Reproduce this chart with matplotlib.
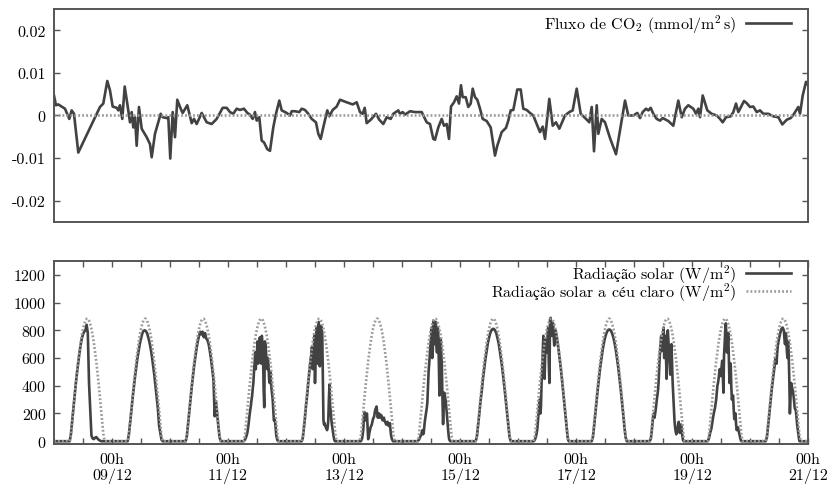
import matplotlib
matplotlib.use("Agg")
import matplotlib.pyplot as plt
import numpy as np

plt.rcParams['font.family'] = ['cmr10', 'Liberation Serif']
plt.rcParams['mathtext.fontset'] = 'cm'
plt.rcParams['axes.unicode_minus'] = False
plt.rcParams['font.size'] = 11.5

# hours since 08/12 00h
co2_hours = [0, 0.83, 1.78, 3.19, 4.55, 6.33, 7.32, 8.28, 10.06, 19.03, 20.4, 22.06, 23.17,
             24.29, 25.94, 26.61, 27.31, 28.26, 29.26, 30.33, 31.45, 32.15, 32.81, 33.52, 34.22,
             35.17, 36.29, 38.36, 39.72, 40.43, 41.79, 44.15, 44.98, 46.63, 47.3, 48.12, 49.12,
             50.07, 51.02, 52.43, 53.26, 55.16, 56.98, 57.93, 59.05, 61.12, 63.19, 65.26, 67.32,
             69.81, 71.46, 72.83, 74.19, 75.6, 76.97, 78.62, 79.99, 81.1, 82.22, 83.17, 83.88,
             84.95, 85.94, 86.9, 88.26, 89.38, 90.74, 91.86, 93.23, 94.22, 96.29, 97.66, 98.36,
             99.72, 101.5, 102.5, 103.86, 105.23, 106.63, 108.41, 109.37, 110.36, 111.43, 113.09,
             113.92, 115.32, 116.98, 118.34, 121.12, 123.6, 125.26, 126.62, 127.74, 128.57,
             129.39, 131.05, 133.24, 134.61, 136.26, 137.67, 139.33, 140.4, 142.47, 143.17,
             144.29, 145.24, 147.31, 149.38, 152.15, 154.22, 155.59, 156.95, 157.66, 159.02,
             160.43, 161.38, 162.5, 163.45, 164.28, 165.52, 166.63, 167.59, 168.41, 169.12,
             170.36, 171.43, 172.43, 173.26, 174.21, 175.16, 176.28, 177.39, 179.05, 180.7,
             182.48, 183.43, 185.25, 187.03, 187.99, 188.98, 190.06, 191.71, 193.12, 194.19,
             195.6, 196.97, 198.33, 199.45, 201.1, 202.22, 203.17, 204.95, 206.36, 207.72,
             209.1, 211.45, 213.23, 214.63, 216.29, 217.94, 220.14, 221.5, 222.5, 223.45,
             224.57, 225.23, 226.63, 228.0, 230.07, 232.55, 236.28, 237.64, 239.71, 241.37,
             242.48, 243.6, 244.97, 245.92, 246.91, 247.99, 249.39, 250.76, 251.88, 254.19,
             256.26, 258.33, 259.74, 261.1, 262.47, 264.54, 265.66, 266.61, 267.31, 268.43,
             270.34, 272.14, 274.22, 275.59, 276.7, 278.07, 280.02, 281.1, 282.21, 283.17,
             285.52, 286.63, 288.0, 289.37, 290.77, 292.14, 293.5, 295.57, 297.64, 299.71,
             301.37, 303.19, 304.84, 306.21, 307.99, 308.69, 309.81, 311.17, 312.0]
co2_flux = [0.0047, 0.0024, 0.0026, 0.0021, 0.0016, -0.0008, 0.0012, 0.0004, -0.0087, 0.002, 0.0028,
            0.0081, 0.0059, 0.0021, 0.0018, 0.0012, 0.0024, -0.0008, 0.0068, 0.0028, -0.0016,
            0.0008, -0.0028, -0.0004, -0.0071, 0.002, -0.0031, -0.0051, -0.0067, -0.0098,
            -0.0043, 0.0004, -0.0004, -0.0006, -0.0004, -0.0101, 0.0008, -0.0051, 0.0037, 0.0016,
            0.0006, 0.0024, -0.0018, -0.0008, -0.002, 0.0006, -0.0016, -0.002, -0.0008, 0.0018,
            0.0018, 0.0008, 0.0004, 0.0016, 0.0013, 0.0016, 0.0006, 0.0002, -0.0008, 0.0008,
            -0.0012, -0.0004, -0.0059, -0.0063, -0.0079, -0.0083, -0.0028, 0.0004, 0.0035,
            0.0012, 0.0006, 0.0, 0.001, 0.001, 0.0008, 0.0016, 0.0013, 0.0004, -0.0008, -0.0016,
            -0.0043, -0.0055, -0.0028, 0.0012, -0.0002, 0.0013, 0.0021, 0.0037, 0.0031, 0.0026,
            0.0031, 0.0008, 0.0004, 0.0018, -0.0018, -0.001, 0.0004, -0.001, -0.002, -0.0004,
            -0.0008, 0.0004, 0.0012, 0.0004, 0.0008, 0.0002, 0.001, 0.0008, 0.0008, -0.0016,
            -0.002, -0.0055, -0.0057, -0.0028, -0.0008, -0.0024, -0.002, -0.0055, 0.0021, 0.0031,
            0.0045, 0.0028, 0.0071, 0.0043, 0.0043, 0.002, 0.0028, 0.0063, 0.0043, 0.0037, 0.0016,
            -0.0008, -0.0013, -0.0028, -0.0094, -0.0071, -0.0039, -0.0029, -0.0012, 0.0012,
            0.0013, 0.0061, 0.0061, 0.0016, 0.0013, 0.0006, 0.0, -0.0016, -0.0039, -0.0026,
            -0.0055, 0.0039, -0.0024, -0.0016, -0.0031, 0.0, 0.0008, 0.0012, 0.0063, 0.0004,
            -0.0008, -0.0016, 0.002, -0.0084, 0.0024, -0.0043, -0.0008, -0.0016, -0.0053,
            -0.0091, 0.0035, 0.0, 0.0, 0.0006, -0.0006, 0.0008, 0.0016, 0.0012, 0.0018, 0.0004,
            -0.0008, -0.0012, -0.0006, -0.0013, -0.0024, 0.0035, -0.0004, 0.0016, 0.0024, 0.0016,
            0.0004, 0.0016, -0.0004, 0.0047, 0.0012, 0.0004, 0.0, -0.0008, -0.0016, -0.0004,
            -0.0002, 0.0008, 0.0028, 0.0008, 0.0034, 0.0029, 0.002, 0.0021, 0.0008, 0.0012,
            0.0004, 0.0004, -0.0002, -0.0004, -0.0021, -0.001, -0.0006, 0.0004, 0.002, 0.0004,
            0.0047, 0.0079, 0.0071]

# half-hourly daytime values, 06:30 to 21:00
day_hours = np.arange(6.5, 21.01, 0.5)
clear_sky = [0, 40, 130, 225, 320, 410, 495, 575, 645, 710, 765, 810, 845, 870, 883,
             883, 870, 845, 810, 765, 710, 645, 575, 495, 410, 320, 225, 130, 40, 0]
solar = [
    [0, 50, 140, 230, 320, 410, 490, 560, 630, 690, 740, 770, 790, 800, 840, 780, 420, 230, 40, 20, 15, 25, 30, 20, 10, 5, 0, 0, 0, 0],
    [0, 50, 130, 215, 305, 385, 460, 530, 595, 650, 700, 740, 775, 795, 800, 795, 780, 750, 715, 670, 615, 550, 480, 400, 320, 235, 110, 60, 10, 0],
    [0, 40, 125, 215, 305, 390, 470, 545, 610, 670, 720, 760, 790, 770, 790, 750, 780, 740, 730, 700, 650, 590, 520, 440, 180, 290, 200, 110, 30, 0],
    [0, 10, 30, 60, 120, 200, 260, 330, 420, 560, 520, 650, 560, 740, 690, 760, 620, 245, 700, 560, 600, 450, 500, 380, 300, 150, 140, 40, 5, 0],
    [0, 30, 110, 200, 290, 380, 470, 560, 620, 520, 650, 420, 780, 560, 860, 540, 830, 780, 150, 130, 100, 80, 150, 410, 220, 120, 60, 10, 0, 0],
    [0, 0, 20, 90, 210, 150, 200, 15, 60, 100, 120, 160, 180, 230, 250, 170, 200, 180, 185, 150, 170, 140, 120, 140, 110, 130, 40, 10, 0, 0],
    [0, 10, 30, 50, 80, 60, 150, 210, 280, 500, 620, 740, 600, 870, 700, 860, 640, 800, 330, 740, 540, 123, 350, 300, 210, 100, 15, 0, 0, 0],
    [0, 35, 115, 200, 290, 360, 450, 520, 590, 650, 705, 745, 780, 800, 810, 810, 800, 780, 745, 705, 650, 590, 525, 450, 370, 285, 200, 110, 30, 0],
    [0, 10, 40, 90, 210, 300, 250, 500, 760, 450, 740, 640, 820, 420, 890, 760, 850, 690, 800, 760, 700, 630, 560, 480, 390, 300, 210, 120, 35, 0],
    [0, 30, 110, 200, 290, 375, 455, 530, 595, 655, 705, 745, 775, 795, 805, 805, 795, 775, 745, 705, 655, 595, 530, 455, 375, 290, 200, 110, 30, 0],
    [0, 20, 100, 190, 170, 230, 310, 380, 560, 700, 650, 770, 600, 760, 450, 800, 650, 480, 700, 420, 250, 100, 50, 90, 140, 60, 120, 40, 0, 0],
    [0, 20, 60, 90, 150, 200, 240, 300, 400, 450, 520, 470, 580, 350, 700, 850, 640, 780, 420, 560, 300, 330, 160, 200, 80, 100, 60, 20, 0, 0],
    [0, 30, 110, 200, 290, 375, 450, 520, 590, 560, 690, 740, 780, 810, 820, 800, 700, 760, 600, 640, 200, 420, 380, 330, 240, 220, 120, 50, 0, 0],
]
# extra quarter-past readings (06:45 to 20:45) on the cloudy days
solar_mid = [
    None,
    None,
    None,
    [5, 20, 45, 90, 160, 230, 300, 380, 500, 640, 600, 720, 620, 750, 560, 700, 380, 720, 640, 520, 560, 420, 440, 340, 220, 160, 90, 20, 0],
    [10, 70, 150, 250, 330, 430, 520, 600, 680, 560, 760, 620, 820, 700, 830, 620, 810, 450, 120, 110, 90, 100, 300, 260, 160, 90, 30, 0, 0],
    [0, 10, 50, 180, 170, 180, 100, 30, 80, 110, 140, 170, 210, 240, 200, 190, 170, 190, 160, 160, 150, 130, 130, 120, 120, 80, 20, 0, 0],
    [5, 20, 40, 70, 50, 110, 180, 240, 400, 560, 700, 820, 650, 860, 760, 700, 820, 560, 600, 650, 300, 250, 330, 260, 150, 50, 5, 0, 0],
    None,
    [5, 25, 60, 150, 260, 200, 420, 650, 600, 620, 700, 780, 560, 880, 820, 800, 760, 780, 780, 730, 665, 595, 520, 435, 345, 255, 165, 75, 10],
    None,
    [10, 60, 150, 200, 200, 270, 340, 450, 640, 760, 720, 820, 700, 600, 780, 720, 560, 620, 560, 330, 150, 70, 60, 120, 100, 90, 80, 10, 0],
    [10, 40, 75, 120, 175, 220, 270, 350, 420, 490, 500, 540, 480, 620, 800, 760, 700, 600, 500, 400, 320, 230, 180, 120, 90, 80, 40, 5, 0],
    [15, 70, 155, 245, 330, 410, 485, 555, 600, 640, 715, 760, 795, 815, 810, 740, 780, 650, 720, 450, 320, 400, 360, 290, 230, 170, 85, 20, 0],
]

tick_hours = [24, 72, 120, 168, 216, 264, 312]
tick_labels = ['00h\n09/12', '00h\n11/12', '00h\n13/12', '00h\n15/12',
               '00h\n17/12', '00h\n19/12', '00h\n21/12']
co2_ticks = [-0.02, -0.01, 0, 0.01, 0.02]
co2_tick_labels = ['-0.02', '-0.01', '0', '0.01', '0.02']
rad_ticks = [0, 200, 400, 600, 800, 1000, 1200]

co2_label = r'Fluxo de CO$_2$ (mmol/m$^2\,$s)'
obs_label = r'Radia$\mathrm{çã}$o solar (W/m$^2$)'
clear_label = r'Radia$\mathrm{çã}$o solar a c$\mathrm{é}$u claro (W/m$^2$)'

# full series, zero at night
obs_t, rad_obs, clear_t, rad_clear = [], [], [], []
for d, day in enumerate(solar):
    t0 = 24 * d
    clear_t.extend([t0] + list(t0 + day_hours) + [t0 + 24])
    rad_clear.extend([0] + clear_sky + [0])
    if solar_mid[d] is None:
        th, vals = list(day_hours), list(day)
    else:
        th = np.empty(2 * len(day_hours) - 1)
        th[0::2] = day_hours
        th[1::2] = day_hours[:-1] + 0.25
        vals = np.empty(len(th))
        vals[0::2] = day
        vals[1::2] = solar_mid[d]
        th, vals = list(th), list(vals)
    obs_t.extend([t0] + [t0 + h for h in th] + [t0 + 24])
    rad_obs.extend([0] + vals + [0])

dark = '#424242'
grey = '#9a9a9a'
frame = '#555555'
dots = (0, (0.7, 0.8))

fig = plt.figure(figsize=(8.33, 4.85), dpi=100)
ax1 = fig.add_axes([0.0648, 0.5402, 0.9052, 0.4392])
ax2 = fig.add_axes([0.0648, 0.0825, 0.9052, 0.3773])

ax1.plot(co2_hours, co2_flux, color=dark, lw=1.9, label=co2_label)
ax1.axhline(0, color=grey, lw=1.9, ls=dots)
ax1.set_xlim(0, 312)
ax1.set_ylim(-0.025, 0.025)
ax1.set_yticks(co2_ticks)
ax1.set_yticklabels(co2_tick_labels)
ax1.set_xticks([])
ax1.tick_params(axis='y', direction='in', length=4, width=1, color=frame, right=True, pad=6)
ax1.legend(loc='upper right', bbox_to_anchor=(0.977, 0.985), frameon=False, markerfirst=False,
           handlelength=2.8, borderaxespad=0, borderpad=0, handletextpad=0.6)

ax2.plot(obs_t, rad_obs, color=dark, lw=1.9, label=obs_label)
ax2.plot(clear_t, rad_clear, color=grey, lw=1.9, ls=dots, label=clear_label)
ax2.set_xlim(0, 312)
ax2.set_ylim(-20, 1300)
ax2.set_yticks(rad_ticks)
ax2.set_xticks(tick_hours)
ax2.set_xticklabels(tick_labels, linespacing=1.15)
ax2.set_xticks(np.arange(12, 312, 12), minor=True)
ax2.tick_params(axis='both', which='both', direction='in', length=4, width=1,
                color=frame, right=True, top=True, pad=6)
ax2.legend(loc='upper right', bbox_to_anchor=(0.977, 0.99), frameon=False, markerfirst=False,
           handlelength=2.8, borderaxespad=0, borderpad=0, handletextpad=0.6, labelspacing=-0.3)

for ax in (ax1, ax2):
    for s in ax.spines.values():
        s.set_color(frame)
        s.set_linewidth(1.4)

fig.savefig('out.png', dpi=100)
